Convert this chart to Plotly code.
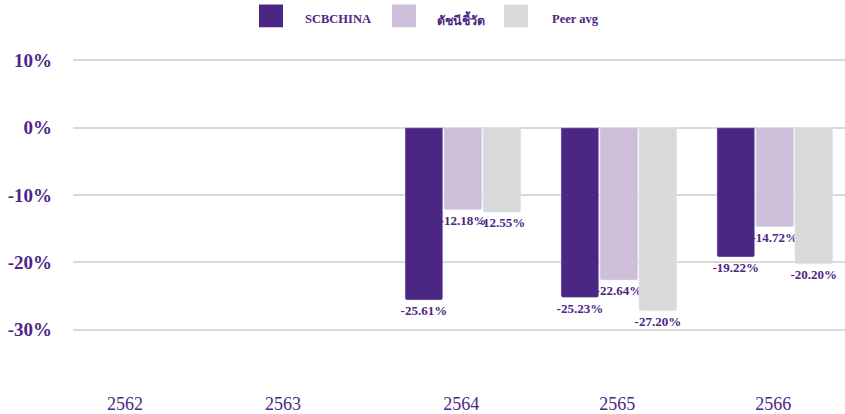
import plotly.graph_objects as go

years = ["2562", "2563", "2564", "2565", "2566"]
scbchina = [None, None, -25.61, -25.23, -19.22]
benchmark = [None, None, -12.18, -22.64, -14.72]
peer_avg = [None, None, -12.55, -27.20, -20.20]
series_names = ["SCBCHINA", "ดัชนีชี้วัด", "Peer avg"]
colors = ["#4b2683", "#cdbfd9", "#d9d9d9"]
y_ticks = [10, 0, -10, -20, -30]

purple = "#4b2683"
serif = "Liberation Serif, Times New Roman, serif"

W, H = 845, 414
L, R, T, B = 73, 0, 47, 40

x_idx = list(range(len(years)))
fig = go.Figure()
for name, vals, col in zip(series_names, [scbchina, benchmark, peer_avg], colors):
    fig.add_trace(go.Bar(
        x=x_idx, y=vals, name=name, marker_color=col, showlegend=False,
        text=[None if v is None else f"{v:.2f}%" for v in vals],
        textposition="outside", cliponaxis=False, constraintext="none",
        textfont=dict(family=serif, size=13, color=purple, weight="bold"),
    ))

# legend drawn as swatches + text (pixel positions converted to paper coords)
pw, ph = W - L - R, H - T - B
def px(x):
    return (x - L) / pw
def py(y):
    return (H - B - y) / ph

swatch_x = [259, 392, 504]
text_x = [303, 435, 550]
shapes = []
annotations = []
for name, col, sx, tx in zip(series_names, colors, swatch_x, text_x):
    shapes.append(dict(type="rect", xref="paper", yref="paper",
                       x0=px(sx), x1=px(sx + 24), y0=py(27), y1=py(4),
                       fillcolor=col, line=dict(width=0)))
    annotations.append(dict(xref="paper", yref="paper", x=px(tx), y=py(19),
                            xanchor="left", yanchor="middle", showarrow=False,
                            text=f"<b>{name}</b>",
                            font=dict(family=serif, size=12.5, color=purple)))

fig.update_layout(
    width=W, height=H,
    margin=dict(l=L, r=R, t=T, b=B),
    paper_bgcolor="white", plot_bgcolor="white",
    barmode="group", bargap=0.25, bargroupgap=0.03,
    barcornerradius=2,
    shapes=shapes, annotations=annotations,
    xaxis=dict(range=[-0.5, 4.45], tickmode="array",
               tickvals=[-0.167, 0.846, 1.99, 2.99, 3.99], ticktext=years,
               showgrid=False, zeroline=False, showline=False,
               tickfont=dict(family=serif, size=18, color=purple),
               ticklabelstandoff=21),
    yaxis=dict(range=[-36, 12], tickmode="array", tickvals=y_ticks,
               ticktext=[f"{v}%" for v in y_ticks],
               showgrid=True, gridcolor="#d9d9d9", gridwidth=2,
               zeroline=False, showline=False,
               tickfont=dict(family=serif, size=19, color=purple, weight="bold"),
               ticklabelstandoff=20),
)
fig.write_html("out.html")
